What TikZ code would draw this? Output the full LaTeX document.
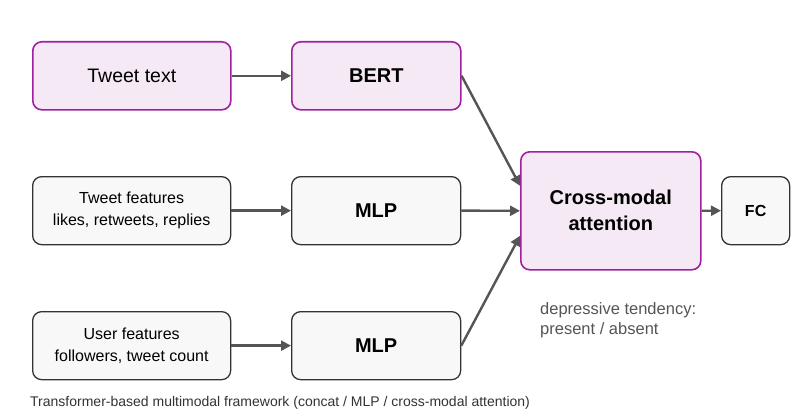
\documentclass[tikz,border=0pt]{standalone}
\usepackage{fontspec}
\setmainfont{Liberation Sans}
\usetikzlibrary{arrows.meta}
\definecolor{pborder}{HTML}{A020A0}
\definecolor{pfill}{HTML}{F4E9F4}
\definecolor{gborder}{HTML}{333333}
\definecolor{gfill}{HTML}{F8F8F8}
\definecolor{arr}{HTML}{555555}
\begin{document}
\begin{tikzpicture}[x=1pt,y=-1pt,
  pbox/.style={draw=pborder,fill=pfill,line width=1.6pt,rounded corners=9pt,align=center,anchor=north west},
  gbox/.style={draw=gborder,fill=gfill,line width=1.3pt,rounded corners=9pt,align=center,anchor=north west},
  con/.style={draw=arr,line width=2.4pt,-{Triangle[length=10pt,width=10pt]}}]
\useasboundingbox[fill=white] (0,0) rectangle (800,420);
\node[pbox,minimum width=198pt,minimum height=68pt,font=\fontsize{19.5}{22}\selectfont] (tt) at (32,41) {Tweet text};
\node[pbox,minimum width=169pt,minimum height=68pt,font=\fontsize{20}{22}\selectfont\bfseries] (bert) at (291,41) {BERT};
\node[gbox,minimum width=198pt,minimum height=68pt,font=\fontsize{16}{22}\selectfont] (tf) at (32,176) {Tweet features\\likes, retweets, replies};
\node[gbox,minimum width=169pt,minimum height=68pt,font=\fontsize{20}{22}\selectfont\bfseries] (mlp1) at (291,176) {MLP};
\node[gbox,minimum width=198pt,minimum height=68pt,font=\fontsize{16}{22}\selectfont] (uf) at (32,311) {User features\\followers, tweet count};
\node[gbox,minimum width=169pt,minimum height=68pt,font=\fontsize{20}{22}\selectfont\bfseries] (mlp2) at (291,311) {MLP};
\node[pbox,minimum width=180pt,minimum height=118pt,font=\fontsize{20}{26}\selectfont\bfseries] (cm) at (520,151) {Cross-modal\\attention};
\node[gbox,minimum width=68pt,minimum height=68pt,font=\fontsize{16}{18}\selectfont\bfseries] (fc) at (721,176) {FC};
\node[anchor=north west,align=left,text=arr,font=\fontsize{16.5}{20}\selectfont,inner sep=0pt] (dt) at (540,302) {depressive tendency:\\present / absent};
\node[anchor=west,text=gborder,font=\fontsize{14}{16}\selectfont,inner sep=0pt] (cap) at (30,403) {Transformer-based multimodal framework (concat / MLP / cross-modal attention)};
\draw[con] (tt.east) -- (bert.west);
\draw[con] (tf.east) -- (mlp1.west);
\draw[con] (uf.east) -- (mlp2.west);
\draw[con] (bert.east) -- ([yshift=25pt]cm.west);
\draw[con] (mlp1.east) -- (cm.west);
\draw[con] (mlp2.east) -- ([yshift=-25pt]cm.west);
\draw[con] (cm.east) -- (fc.west);
\end{tikzpicture}
\end{document}
